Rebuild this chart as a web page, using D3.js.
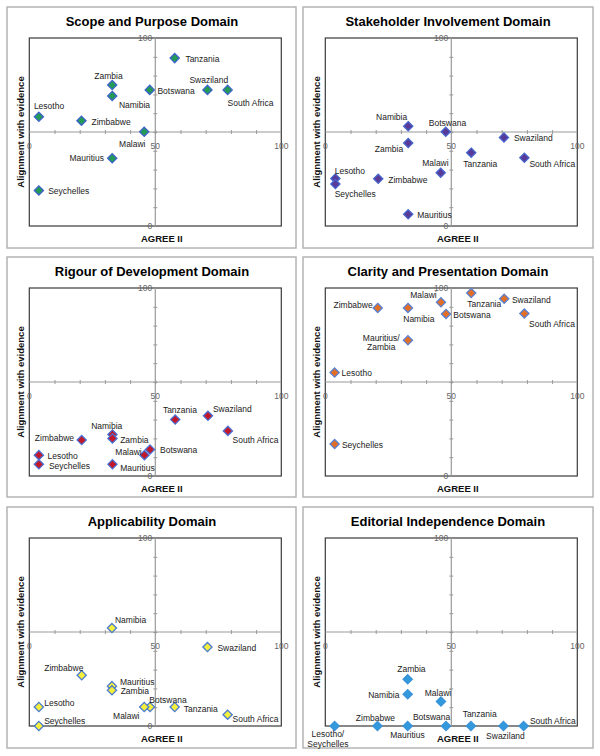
<!DOCTYPE html>
<html>
<head>
<meta charset="utf-8">
<script src="https://cdn.jsdelivr.net/npm/d3@7"></script>
<style>
  html, body { margin: 0; padding: 0; background: #fff; }
  svg { display: block; font-family: Arial, "Liberation Sans", sans-serif; }
</style>
</head>
<body>
<svg id="chart" width="600" height="756"></svg>
<script>
// ---------------- DATA ----------------
const panelTitles = [
  "Scope and Purpose Domain",
  "Stakeholder Involvement Domain",
  "Rigour of Development Domain",
  "Clarity and Presentation Domain",
  "Applicability Domain",
  "Editorial Independence Domain"
];

// Scope and Purpose
const scopeLabels = ["Botswana","Lesotho","Malawi","Mauritius","Namibia","Seychelles","South Africa","Swaziland","Tanzania","Zambia","Zimbabwe"];
const scopeAgree  = [47.8, 3.8, 45.6, 32.9, 32.9, 3.8, 78.7, 70.7, 57.7, 32.9, 20.7];
const scopeAlign  = [72.4, 58.1, 50.1, 36.0, 69.2, 18.9, 72.4, 72.4, 89.3, 75.0, 56.0];

// Stakeholder Involvement
const stakeLabels = ["Botswana","Lesotho","Malawi","Mauritius","Namibia","Seychelles","South Africa","Swaziland","Tanzania","Zambia","Zimbabwe"];
const stakeAgree  = [47.8, 4.0, 45.8, 32.9, 32.9, 4.0, 79.0, 70.9, 57.9, 32.9, 21.0];
const stakeAlign  = [50.1, 25.3, 28.3, 6.2, 53.1, 22.3, 36.3, 47.1, 39.0, 44.1, 25.1];

// Rigour of Development
const rigourLabels = ["Botswana","Lesotho","Malawi","Mauritius","Namibia","Seychelles","South Africa","Swaziland","Tanzania","Zambia","Zimbabwe"];
const rigourAgree  = [47.9, 3.8, 45.7, 33.0, 33.0, 3.8, 78.8, 70.9, 57.9, 33.0, 20.8];
const rigourAlign  = [14.1, 11.1, 11.1, 6.2, 22.1, 6.2, 24.0, 32.0, 30.0, 20.0, 19.1];

// Clarity and Presentation
const clarityLabels = ["Botswana","Lesotho","Malawi","Mauritius/\nZambia","Namibia","Seychelles","South Africa","Swaziland","Tanzania","Zimbabwe"];
const clarityAgree  = [47.9, 3.7, 45.9, 32.8, 32.8, 3.7, 79.0, 71.0, 57.9, 20.8];
const clarityAlign  = [86.2, 55.0, 92.4, 72.2, 89.4, 17.0, 86.4, 94.3, 97.3, 89.4];

// Applicability
const applicLabels = ["Botswana","Lesotho","Malawi","Mauritius","Namibia","Seychelles","South Africa","Swaziland","Tanzania","Zambia","Zimbabwe"];
const applicAgree  = [47.9, 3.8, 45.6, 32.8, 32.8, 3.8, 78.7, 70.7, 57.7, 32.8, 20.8];
const applicAlign  = [10.1, 10.1, 10.1, 21.2, 52.1, 0.0, 6.0, 42.0, 10.1, 19.0, 27.0];

// Editorial Independence
const editLabels = ["Botswana","Lesotho/\nSeychelles","Malawi","Mauritius","Namibia","South Africa","Swaziland","Tanzania","Zambia","Zimbabwe"];
const editAgree  = [47.9, 3.7, 45.9, 32.7, 32.7, 78.7, 70.7, 57.8, 32.7, 20.7];
const editAlign  = [0.0, 0.0, 13.0, 0.0, 16.9, 0.0, 0.0, 0.0, 24.9, 0.0];

const xTickLabels = ["0", "50", "100"];
const yTickLabels = ["0", "100"];
const xAxisTitle = "AGREE II";
const yAxisTitle = "Alignment with evidence";

// ---------------- LABEL PLACEMENT (anchor, dx, dy in px) ----------------
const scopePlace = [["start",7.7,4],["start",-5,-7.7],["end",1.3,14.7],["end",-8.3,3],["start",6.7,12.3],["start",9.3,4],["start",0,15.7],["middle",1.3,-7],["start",10.7,4],["middle",-3.7,-6.3],["start",10,4]];
const stakePlace = [["middle",1.7,-5.7],["start",-0.7,-4],["middle",-5.3,-6.7],["start",9,3.7],["end",-1,-6],["start",-0.7,13],["start",5,9],["start",10,3.7],["start",-8,14.3],["end",-5,9.3],["start",10,4]];
const rigourPlace = [["start",10,4],["start",8.7,4],["end",-2.7,0.3],["start",7.7,7],["middle",-5.7,-5.7],["start",10,4.3],["start",4.7,11.7],["start",5,-3.7],["middle",4.7,-6.3],["start",7.7,5],["end",-7.7,0.7]];
const clarityPlace = [["start",7.3,4],["start",7,3.7],["end",-4.3,-4],["middle",-26.7,0.3],["start",-4.7,14.3],["start",7.3,4],["start",4.7,13.3],["start",7.7,4],["start",-4,14.3],["end",-5,-0.3]];
const applicPlace = [["start",-0.7,-4],["start",5.3,-1.3],["end",-4.7,12],["start",8,-1.3],["start",3,-5],["start",5.3,-1.7],["start",5,7.7],["start",10,4],["start",9,5.3],["start",8.7,4],["end",1.7,-4.7]];
const editPlace = [["end",4.3,-5.7],["middle",-6.7,11.3],["middle",-3,-6],["middle",-0.3,12],["end",-8.3,4],["start",6.3,-2.3],["middle",2,12.7],["middle",8.7,-8.7],["middle",3.7,-6.7],["middle",-2,-4.7]];

const panels = [
  { title: panelTitles[0], labels: scopeLabels,   xs: scopeAgree,   ys: scopeAlign,   place: scopePlace,   fill: "#239b57", stroke: "#3d63c9" },
  { title: panelTitles[1], labels: stakeLabels,   xs: stakeAgree,   ys: stakeAlign,   place: stakePlace,   fill: "#5a3a99", stroke: "#4565cc" },
  { title: panelTitles[2], labels: rigourLabels,  xs: rigourAgree,  ys: rigourAlign,  place: rigourPlace,  fill: "#c2182b", stroke: "#4a70d2" },
  { title: panelTitles[3], labels: clarityLabels, xs: clarityAgree, ys: clarityAlign, place: clarityPlace, fill: "#e26f28", stroke: "#5a82d2" },
  { title: panelTitles[4], labels: applicLabels,  xs: applicAgree,  ys: applicAlign,  place: applicPlace,  fill: "#f3ef3c", stroke: "#4a7ad0" },
  { title: panelTitles[5], labels: editLabels,    xs: editAgree,    ys: editAlign,    place: editPlace,    fill: "#3399dd", stroke: "#3a93d8" }
];

// ---------------- LAYOUT ----------------
const svg = d3.select("#chart");
const colLeft = [7, 303], colW = [289, 290];
const rowTop = [7, 257, 507], rowH = [241, 240, 241];

const diamond = "M0,-4.6L4.6,0L0,4.6L-4.6,0Z";

panels.forEach((p, i) => {
  const col = i % 2, row = Math.floor(i / 2);
  const px = colLeft[col], py = rowTop[row], pw = colW[col], ph = rowH[row];
  const g = svg.append("g");

  // panel frame
  g.append("rect").attr("x", px).attr("y", py).attr("width", pw).attr("height", ph)
    .attr("fill", "#fff").attr("stroke", "#b4b4b4").attr("stroke-width", 1.5);

  const bx0 = px + 22.3, bx1 = bx0 + 252, by0 = py + 31, by1 = by0 + 188;
  const x = d3.scaleLinear().domain([0, 100]).range([bx0, bx1]);
  const y = d3.scaleLinear().domain([0, 100]).range([by1, by0]);

  // title
  g.append("text").attr("x", px + 145).attr("y", py + 18.5)
    .attr("text-anchor", "middle").attr("font-size", 13).attr("font-weight", "bold")
    .attr("fill", "#000").text(p.title);

  // plot box
  g.append("rect").attr("x", bx0).attr("y", by0).attr("width", bx1 - bx0).attr("height", by1 - by0)
    .attr("fill", "none").attr("stroke", "#3a3a3a").attr("stroke-width", 1.2);

  // crosshair axes through (50,50)
  const xAxis = d3.axisBottom(x).tickValues(d3.range(10, 100, 10)).tickSize(4).tickFormat("");
  const yAxis = d3.axisLeft(y).tickValues(d3.range(10, 100, 10)).tickSize(4).tickFormat("");
  const gx = g.append("g").attr("transform", `translate(0,${y(50) - 2})`).call(xAxis);
  gx.select(".domain").remove();
  gx.selectAll("line").attr("stroke", "#9a9a9a");
  const gy = g.append("g").attr("transform", `translate(${x(50) + 2},0)`).call(yAxis);
  gy.select(".domain").remove();
  gy.selectAll("line").attr("stroke", "#9a9a9a");
  g.append("line").attr("x1", bx0).attr("x2", bx1).attr("y1", y(50)).attr("y2", y(50))
    .attr("stroke", "#9a9a9a").attr("stroke-width", 1.2);
  g.append("line").attr("x1", x(50)).attr("x2", x(50)).attr("y1", by0).attr("y2", by1)
    .attr("stroke", "#9a9a9a").attr("stroke-width", 1.2);

  // tick labels
  xTickLabels.forEach(t => {
    g.append("text").attr("x", x(+t)).attr("y", y(50) + 17)
      .attr("text-anchor", "middle").attr("font-size", 8.5).attr("fill", "#666").text(t);
  });
  yTickLabels.forEach(t => {
    g.append("text").attr("x", x(50) - 3).attr("y", y(+t) + 3)
      .attr("text-anchor", "end").attr("font-size", 8.5).attr("fill", "#666").text(t);
  });

  // axis titles
  g.append("text").attr("x", (bx0 + bx1) / 2 + 6.5).attr("y", by1 + 16)
    .attr("text-anchor", "middle").attr("font-size", 9.5).attr("font-weight", "bold")
    .attr("fill", "#111").text(xAxisTitle);
  g.append("text").attr("transform", `translate(${px + 17.2},${(by0 + by1) / 2}) rotate(-90)`)
    .attr("text-anchor", "middle").attr("font-size", 9.5).attr("font-weight", "bold")
    .attr("fill", "#111").text(yAxisTitle);

  // points
  const pts = p.labels.map((lab, k) => ({ lab, x: p.xs[k], y: p.ys[k], pl: p.place[k] }));
  g.selectAll("path.pt").data(pts).enter().append("path").attr("class", "pt")
    .attr("d", diamond)
    .attr("transform", d => `translate(${x(d.x)},${y(d.y)})`)
    .attr("fill", p.fill).attr("stroke", p.stroke).attr("stroke-width", 1.3);

  // labels
  pts.forEach(d => {
    const [anchor, dx, dy] = d.pl;
    const t = g.append("text").attr("text-anchor", anchor).attr("font-size", 8.5).attr("fill", "#222");
    d.lab.split("\n").forEach((line, li) => {
      t.append("tspan").attr("x", x(d.x) + dx).attr("y", y(d.y) + dy + li * 9.5).text(line);
    });
  });
});
</script>
</body>
</html>
